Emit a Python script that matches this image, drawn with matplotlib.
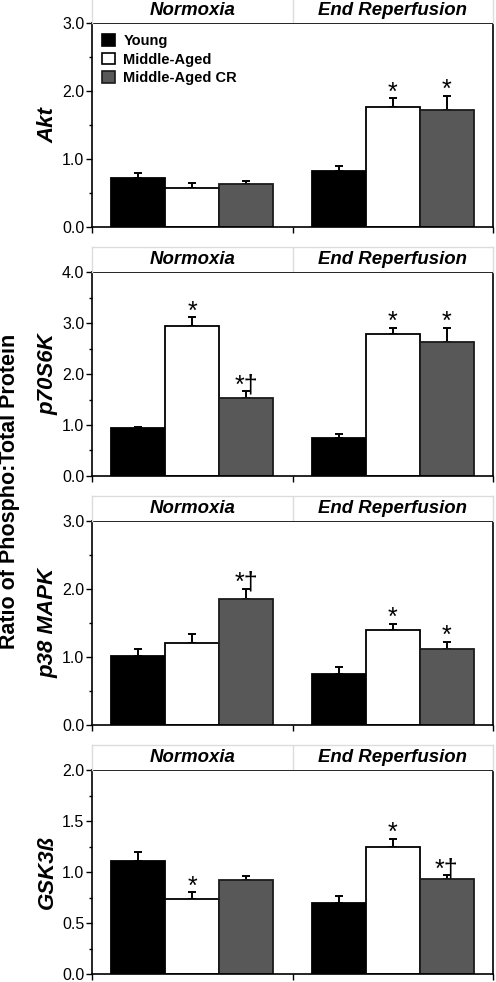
"""
Phospho:total protein ratios, four stacked panels (Akt, p70S6K, p38 MAPK, GSK3ß).
"""
import matplotlib
matplotlib.use("Agg")
import matplotlib.pyplot as plt
from matplotlib.ticker import MultipleLocator, FormatStrFormatter
from matplotlib.patches import Rectangle

plt.rcParams["font.family"] = ["Liberation Sans", "DejaVu Sans"]

conditions = ["Normoxia", "End Reperfusion"]
series = ["Young", "Middle-Aged", "Middle-Aged CR"]

# means / SEM per condition, ordered like `series`
akt_mean = [[0.72, 0.57, 0.63], [0.82, 1.77, 1.72]]
akt_err = [[0.08, 0.08, 0.04], [0.07, 0.12, 0.21]]
akt_marks = [["", "", ""], ["", "*", "*"]]

p70_mean = [[0.95, 2.95, 1.53], [0.74, 2.79, 2.62]]
p70_err = [[0.02, 0.16, 0.13], [0.08, 0.11, 0.29]]
p70_marks = [["", "*", "*†"], ["", "*", "*"]]

p38_mean = [[1.02, 1.20, 1.85], [0.75, 1.39, 1.12]]
p38_err = [[0.10, 0.14, 0.15], [0.11, 0.09, 0.10]]
p38_marks = [["", "", "*†"], ["", "*", "*"]]

gsk_mean = [[1.11, 0.74, 0.92], [0.70, 1.25, 0.93]]
gsk_err = [[0.09, 0.06, 0.04], [0.06, 0.07, 0.04]]
gsk_marks = [["", "*", ""], ["", "*", "*†"]]

panels = [
    ("Akt", akt_mean, akt_err, akt_marks, 3.0, 1.0),
    ("p70S6K", p70_mean, p70_err, p70_marks, 4.0, 1.0),
    ("p38 MAPK", p38_mean, p38_err, p38_marks, 3.0, 1.0),
    ("GSK3ß", gsk_mean, gsk_err, gsk_marks, 2.0, 0.5),
]

colors = ["#000000", "#ffffff", "#585858"]
edges = ["#000000", "#000000", "#1a1a1a"]
HEADER_GRAY = "#dcdcdc"

W, H = 496, 982
fig = plt.figure(figsize=(W / 100, H / 100), dpi=100)

left, right = 92, 493
axis_h = 204
axis_tops = [23, 272, 521, 770]
header_h = 25
bar_w = 0.27
offsets = [-0.27, 0.0, 0.27]
group_x = [0.5, 1.5]

for i, (name, means, errs, marks, ymax, major) in enumerate(panels):
    top = axis_tops[i]
    ax = fig.add_axes([left / W, 1 - (top + axis_h) / H, (right - left) / W, axis_h / H])
    for c, gx in enumerate(group_x):
        for s in range(len(series)):
            x = gx + offsets[s]
            ax.bar(x, means[c][s], width=bar_w, color=colors[s], edgecolor=edges[s],
                   linewidth=1.3, zorder=2)
            ax.errorbar(x, means[c][s], yerr=[[0], [errs[c][s]]], fmt="none",
                        ecolor="black", elinewidth=1.4, capsize=3, capthick=1.4, zorder=1)
            if marks[c][s]:
                ax.annotate(marks[c][s], xy=(x, means[c][s] + errs[c][s]), xytext=(0, -4.3),
                            textcoords="offset points", ha="center", va="bottom",
                            fontsize=18)
    ax.set_xlim(0, 2)
    ax.set_ylim(0, ymax)
    ax.set_xticks([0, 1, 2])
    ax.set_xticklabels([])
    ax.yaxis.set_major_locator(MultipleLocator(major))
    ax.yaxis.set_minor_locator(MultipleLocator(major / 2))
    ax.yaxis.set_major_formatter(FormatStrFormatter("%.1f"))
    ax.tick_params(axis="both", which="major", direction="out", length=4, width=1,
                   labelsize=11.5, pad=1.5)
    ax.tick_params(axis="y", which="minor", direction="out", length=2, width=1)
    for sp in ax.spines.values():
        sp.set_linewidth(1.2)
    ax.set_ylabel(name, fontsize=16, fontweight="bold", fontstyle="italic")
    ax.yaxis.set_label_coords((58 - left) / (right - left), 0.5)

    # header strip with condition names
    hd = fig.add_axes([left / W, 1 - top / H, (right - left) / W, header_h / H])
    hd.set_xlim(0, 2)
    hd.set_ylim(0, 1)
    hd.set_xticks([])
    hd.set_yticks([])
    for k, sp in hd.spines.items():
        sp.set_color(HEADER_GRAY)
        sp.set_linewidth(1)
        if k == "bottom":
            sp.set_visible(False)
    hd.axvline(1, color=HEADER_GRAY, lw=1)
    for c, gx in enumerate(group_x):
        hd.text(gx, 0.5, conditions[c], ha="center", va="center", fontsize=13.4,
                fontweight="bold", fontstyle="italic")

    if i == 0:
        handles = [Rectangle((0, 0), 1, 1, facecolor=colors[s], edgecolor=edges[s], lw=1.2)
                   for s in range(len(series))]
        ax.legend(handles, series, loc="upper left", bbox_to_anchor=(0.0, 0.995),
                  frameon=False, prop={"size": 10.5, "weight": "bold"},
                  handlelength=0.85, handleheight=0.85, handletextpad=0.6,
                  labelspacing=0.3, borderaxespad=0.3)

fig.text(10 / W, 0.5, "Ratio of Phospho:Total Protein", rotation=90, ha="center",
         va="center", fontsize=15.5, fontweight="bold")

fig.savefig("out.png", dpi=100)
